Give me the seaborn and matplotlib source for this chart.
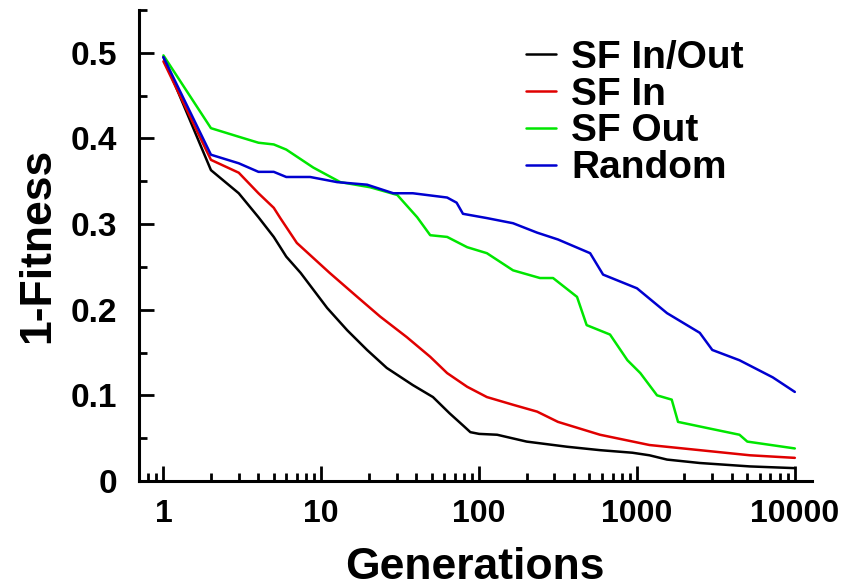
import matplotlib
matplotlib.use("Agg")
import matplotlib.pyplot as plt
import matplotlib.ticker as mticker
import seaborn as sns
import pandas as pd

sns.set_style("ticks")
plt.rcParams["font.family"] = ["Liberation Sans", "DejaVu Sans"]
plt.rcParams["font.weight"] = "bold"
plt.rcParams["text.color"] = "black"
plt.rcParams["axes.labelcolor"] = "black"
plt.rcParams["xtick.color"] = "black"
plt.rcParams["ytick.color"] = "black"
plt.rcParams["axes.edgecolor"] = "black"

# values
series_names = ["SF In/Out", "SF In", "SF Out", "Random"]
series_colors = ["#000000", "#e00000", "#00e600", "#0000d0"]

inout_gen = [1, 2, 3, 4, 5, 5.5, 6, 7.4, 10.9, 14.6, 19.5, 26, 38, 51, 65, 80, 88,
             100, 130, 200, 360, 583, 935, 1200, 1550, 2500, 5200, 10000]
inout_val = [0.495, 0.363, 0.336, 0.308, 0.285, 0.273, 0.262, 0.243, 0.202, 0.176,
             0.153, 0.132, 0.112, 0.098, 0.079, 0.064, 0.057, 0.055, 0.054, 0.046,
             0.040, 0.036, 0.033, 0.030, 0.025, 0.021, 0.017, 0.015]

in_gen = [1, 2, 3, 4, 5, 5.5, 7, 11.3, 16.9, 23.6, 34.8, 49, 62.7, 84, 112, 164,
          233, 316, 583, 1200, 2500, 5200, 10000]
in_val = [0.490, 0.375, 0.360, 0.336, 0.319, 0.307, 0.278, 0.243, 0.215, 0.192,
          0.168, 0.145, 0.126, 0.110, 0.098, 0.089, 0.081, 0.069, 0.054, 0.042,
          0.036, 0.030, 0.027]

out_gen = [1, 2, 3, 4, 5, 6, 8.9, 13.2, 20.4, 30.3, 40.5, 49, 62.7, 84, 112, 164,
           243, 294, 417, 480, 675, 870, 1050, 1340, 1660, 1820, 2760, 4460, 5000,
           10000]
out_val = [0.497, 0.412, 0.402, 0.395, 0.393, 0.387, 0.366, 0.349, 0.343, 0.334,
           0.308, 0.287, 0.285, 0.273, 0.266, 0.246, 0.237, 0.237, 0.215, 0.182,
           0.171, 0.141, 0.126, 0.100, 0.095, 0.069, 0.062, 0.054, 0.046, 0.038]

rand_gen = [1, 2, 3, 4, 5, 6, 8.5, 12.6, 19.5, 28.6, 38, 62.7, 72, 79, 112, 164,
            233, 316, 505, 610, 1000, 1550, 2500, 3000, 4460, 7250, 10000]
rand_val = [0.495, 0.381, 0.371, 0.361, 0.361, 0.355, 0.355, 0.349, 0.346, 0.336,
            0.336, 0.331, 0.325, 0.312, 0.307, 0.301, 0.290, 0.282, 0.266, 0.241,
            0.225, 0.196, 0.173, 0.153, 0.141, 0.121, 0.104]

frames = []
for name, gen, val in zip(series_names,
                          [inout_gen, in_gen, out_gen, rand_gen],
                          [inout_val, in_val, out_val, rand_val]):
    frames.append(pd.DataFrame({"Generations": gen, "1-Fitness": val, "series": name}))
df = pd.concat(frames, ignore_index=True)

fig = plt.figure(figsize=(8.5, 5.88), dpi=100)
ax = fig.add_axes([0.1635, 0.182, 0.7915, 0.801])

sns.lineplot(data=df, x="Generations", y="1-Fitness", hue="series",
             hue_order=series_names, palette=dict(zip(series_names, series_colors)),
             estimator=None, sort=False, linewidth=1.8, ax=ax)

ax.set_xscale("log")
ax.set_xlim(0.7, 12800)
ax.set_ylim(0, 0.55)
ax.xaxis.set_major_locator(mticker.LogLocator(base=10))
ax.xaxis.set_minor_locator(mticker.LogLocator(base=10, subs=range(2, 10)))
ax.xaxis.set_major_formatter(mticker.FuncFormatter(lambda v, p: f"{v:g}"))
ax.xaxis.set_minor_formatter(mticker.NullFormatter())
ax.yaxis.set_major_locator(mticker.MultipleLocator(0.1))
ax.yaxis.set_minor_locator(mticker.MultipleLocator(0.05))
ax.yaxis.set_major_formatter(mticker.FuncFormatter(lambda v, p: f"{v:g}"))

sns.despine(ax=ax)
for side in ["left", "bottom"]:
    ax.spines[side].set_linewidth(2.2)
ax.tick_params(which="major", direction="in", length=11, width=2, labelsize=23)
ax.tick_params(axis="y", which="major", labelsize=24, pad=16)
ax.tick_params(axis="x", which="major", pad=13)
ax.tick_params(which="minor", direction="in", length=6, width=2)

ax.set_xlabel("Generations", fontsize=32, fontweight="bold", labelpad=13)
ax.set_ylabel("1-Fitness", fontsize=32, fontweight="bold", labelpad=9)

ax.legend(loc="upper left", bbox_to_anchor=(0.547, 0.978), frameon=False,
          fontsize=28, handlelength=0.75, handletextpad=0.4, labelspacing=0.02,
          borderpad=0)

fig.savefig("out.png", dpi=100)
plt.close(fig)
